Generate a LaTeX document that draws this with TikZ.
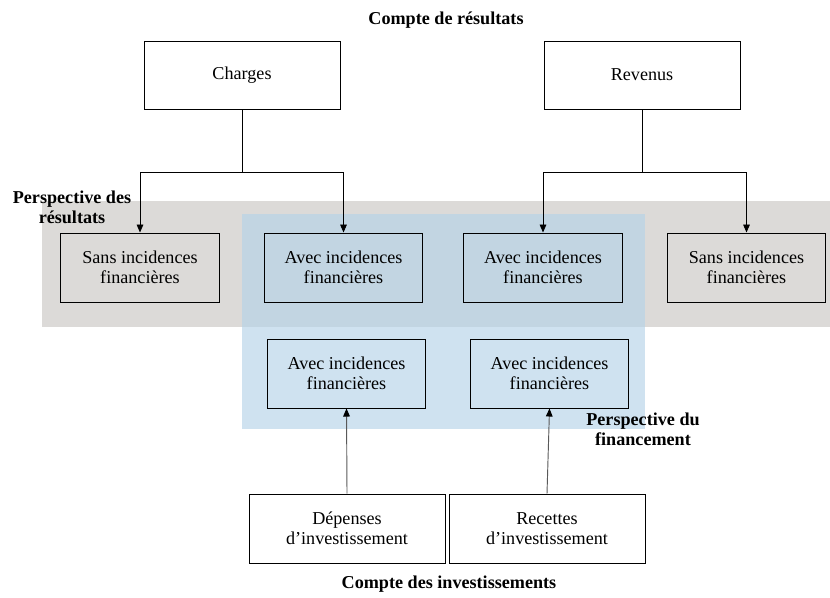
\documentclass[tikz,border=0pt]{standalone}
\usepackage{fontspec}
\setmainfont{Liberation Serif}
\usetikzlibrary{arrows.meta}
\definecolor{bandgray}{HTML}{DCDAD8}
\definecolor{bandblue}{HTML}{CFE2F0}
\definecolor{bandmix}{HTML}{C2D5E2}
\begin{document}
\begin{tikzpicture}[x=0.75pt,y=-0.75pt,
  font=\fontsize{13.6}{15}\selectfont,
  box/.style={draw=black, line width=0.75pt, align=center, inner sep=0pt},
  bigbox/.style={box, minimum width=147pt, minimum height=51pt},
  smallbox/.style={box, minimum width=119pt, minimum height=51.75pt},
  titletext/.style={font=\fontsize{13.6}{15}\selectfont\bfseries, align=center},
  arr/.style={-{Triangle[length=6pt,width=5pt]}, line width=0.7pt},
  uparr/.style={-{Triangle[length=6pt,width=5pt,color=black]}, draw=black!65, line width=0.7pt}
]
\useasboundingbox (0,0) rectangle (830,597);
% bands
\fill[bandgray] (42,201) rectangle (830,327);
\fill[bandblue] (242,214) rectangle (645,429);
\fill[bandmix] (242,214) rectangle (645,327);

% titles
\node[titletext] (t1) at (446,20) {Compte de résultats};
\node[titletext] (t2) at (72,207.5) {Perspective des\\résultats};
\node[titletext] (t3) at (643,429) {Perspective du\\financement};
\node[titletext] (t4) at (449,584) {Compte des investissements};

% top boxes
\node[bigbox] (charges) at (242,75) {Charges};
\node[bigbox] (revenus) at (642,75) {Revenus};

% middle row
\node[smallbox] (sansL) at (140,267.5) {Sans incidences\\financières};
\node[smallbox] (avecL) at (343.5,267.5) {Avec incidences\\financières};
\node[smallbox] (avecR) at (543,267.5) {Avec incidences\\financières};
\node[smallbox] (sansR) at (746.5,267.5) {Sans incidences\\financières};

% financing row
\node[smallbox] (finL) at (346.5,373.5) {Avec incidences\\financières};
\node[smallbox] (finR) at (549.5,373.5) {Avec incidences\\financières};

% investment boxes
\node[bigbox, minimum height=51.75pt] (dep) at (347,528.5) {Dépenses\\d’investissement};
\node[bigbox, minimum height=51.75pt] (rec) at (547,528.5) {Recettes\\d’investissement};

% connectors
\coordinate (cj) at (242,172);
\coordinate (rj) at (642,172);
\draw[line width=0.7pt] (charges.south) -- (cj);
\draw[arr] (cj) -| (sansL.north);
\draw[arr] (cj) -| (avecL.north);
\draw[line width=0.7pt] (revenus.south) -- (rj);
\draw[arr] (rj) -| (avecR.north);
\draw[arr] (rj) -| (sansR.north);

\draw[uparr] (dep.north) -- (finL.south);
\draw[uparr] (rec.north) -- (finR.south);
\end{tikzpicture}
\end{document}
